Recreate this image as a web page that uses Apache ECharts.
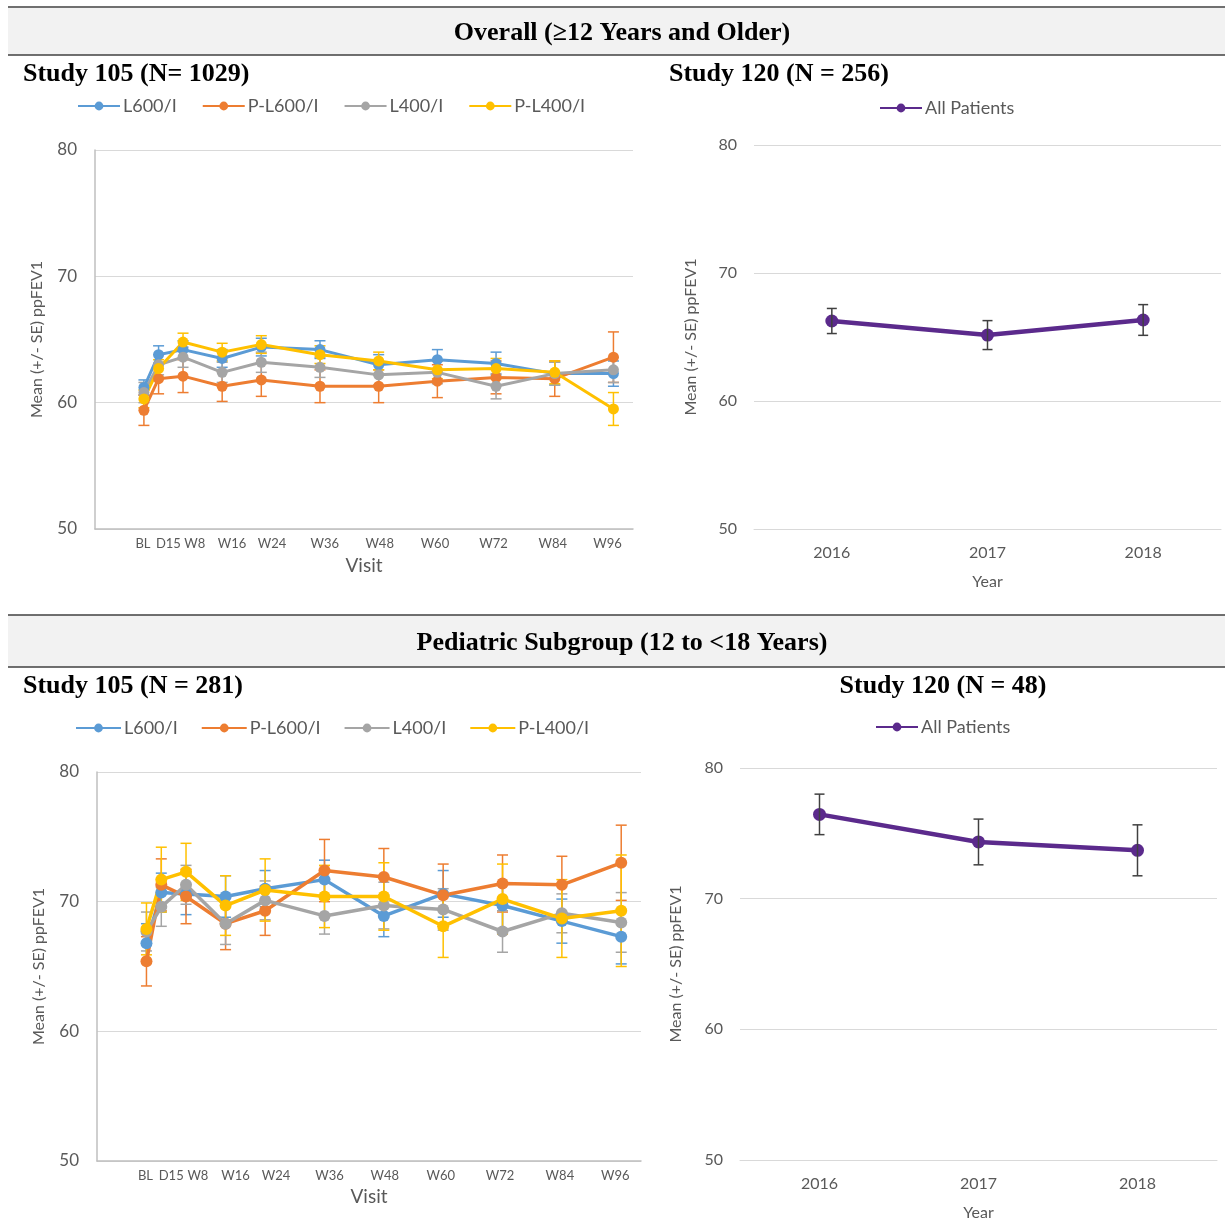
<!DOCTYPE html>
<html>
<head>
<meta charset="utf-8">
<script src="https://cdn.jsdelivr.net/npm/echarts@6/dist/echarts.min.js"></script>
<style>
  html, body { margin: 0; padding: 0; background: #fff; }
  #chart { width: 1225px; height: 1223px; }
</style>
</head>
<body>
<div id="chart"></div>
<script>
// ---- Visit schedule (x in weeks) and tick labels ----
const visits = ['BL', 'D15', 'W8', 'W16', 'W24', 'W36', 'W48', 'W60', 'W72', 'W84', 'W96'];
const visitWeeks = [0, 3, 8, 16, 24, 36, 48, 60, 72, 84, 96];
const visitTickWeeks = [-0.2, 5, 10.4, 18, 26.2, 37, 48.2, 59.5, 71.5, 83.6, 94.8];
const years = ['2016', '2017', '2018'];

// ---- Study 105, overall population: mean ppFEV1 and SE ----
const overallL600 = [61.2, 63.8, 64.2, 63.5, 64.4, 64.2, 63.0, 63.4, 63.1, 62.3, 62.3];
const overallL600SE = [0.6, 0.7, 0.7, 0.7, 0.7, 0.7, 0.8, 0.8, 0.9, 0.9, 1.0];
const overallPL600 = [59.4, 61.9, 62.1, 61.3, 61.8, 61.3, 61.3, 61.7, 62.0, 61.9, 63.6];
const overallPL600SE = [1.2, 1.2, 1.3, 1.2, 1.3, 1.3, 1.3, 1.3, 1.3, 1.4, 2.0];
const overallL400 = [60.8, 63.0, 63.6, 62.4, 63.2, 62.8, 62.2, 62.4, 61.3, 62.3, 62.6];
const overallL400SE = [0.8, 0.8, 0.8, 0.8, 0.8, 0.8, 0.8, 0.9, 1.0, 0.9, 1.0];
const overallPL400 = [60.3, 62.7, 64.8, 64.0, 64.6, 63.8, 63.3, 62.6, 62.7, 62.4, 59.5];
const overallPL400SE = [0.7, 0.7, 0.7, 0.7, 0.7, 0.7, 0.7, 0.7, 0.8, 0.9, 1.3];

// ---- Study 105, pediatric subgroup ----
const pedL600 = [66.8, 70.7, 70.6, 70.4, 71.0, 71.7, 68.9, 70.6, 69.7, 68.5, 67.3];
const pedL600SE = [1.5, 1.5, 1.6, 1.6, 1.4, 1.5, 1.6, 1.8, 1.8, 1.7, 2.1];
const pedPL600 = [65.4, 71.3, 70.4, 68.3, 69.3, 72.4, 71.9, 70.5, 71.4, 71.3, 73.0];
const pedPL600SE = [1.9, 2.0, 2.1, 2.0, 1.9, 2.4, 2.2, 2.4, 2.2, 2.2, 2.9];
const pedL400 = [67.7, 69.6, 71.3, 68.3, 70.1, 68.9, 69.7, 69.4, 67.7, 69.1, 68.4];
const pedL400SE = [1.5, 1.5, 1.5, 1.6, 1.5, 1.4, 1.8, 1.6, 1.6, 1.5, 2.3];
const pedPL400 = [67.9, 71.7, 72.3, 69.7, 70.9, 70.4, 70.4, 68.1, 70.2, 68.7, 69.3];
const pedPL400SE = [2.0, 2.5, 2.2, 2.3, 2.4, 2.4, 2.6, 2.4, 2.7, 3.0, 4.3];

// ---- Study 120, all patients by year ----
const overall120 = [66.25, 65.15, 66.33];
const overall120SE = [0.98, 1.13, 1.2];
const ped120 = [76.45, 74.34, 73.7];
const ped120SE = [1.55, 1.75, 1.95];

const armNames = ['L600/I', 'P-L600/I', 'L400/I', 'P-L400/I'];
const armColors = ['#5B9BD5', '#ED7D31', '#A5A5A5', '#FFC000'];
const purple = '#5B2A8C';
const axisText = '#595959';
const uiFont = 'Lato, "Open Sans", sans-serif';
const serifFont = '"Liberation Serif", "Times New Roman", serif';
const yName = 'Mean (+/- SE) ppFEV1';

// vertical error bar with caps, positioned through the axis scales
function errorBar(color, width, capHalf) {
  return function (params, api) {
    const x = api.value(0);
    const hi = api.coord([x, api.value(2)]);
    const lo = api.coord([x, api.value(1)]);
    const st = { stroke: color, lineWidth: width };
    return {
      type: 'group',
      children: [
        { type: 'line', shape: { x1: hi[0], y1: hi[1], x2: lo[0], y2: lo[1] }, style: st },
        { type: 'line', shape: { x1: hi[0] - capHalf, y1: hi[1], x2: hi[0] + capHalf, y2: hi[1] }, style: st },
        { type: 'line', shape: { x1: lo[0] - capHalf, y1: lo[1], x2: lo[0] + capHalf, y2: lo[1] }, style: st }
      ]
    };
  };
}

function visitArm(idx, name, values, se, color, lw, sym) {
  return [
    {
      type: 'custom', name: name + ' SE', xAxisIndex: idx, yAxisIndex: idx, silent: true, z: 2,
      renderItem: errorBar(color, 1.5, 5.5),
      encode: { x: 0, y: [1, 2] },
      data: visitWeeks.map((w, i) => [w, values[i] - se[i], values[i] + se[i]])
    },
    {
      type: 'line', name: name, xAxisIndex: idx, yAxisIndex: idx, z: 3,
      symbol: 'circle', symbolSize: sym,
      lineStyle: { width: lw, color: color }, itemStyle: { color: color },
      data: visitWeeks.map((w, i) => [w, values[i]])
    }
  ];
}

function yearSeries(idx, values, se) {
  return [
    {
      type: 'custom', name: 'All Patients SE', xAxisIndex: idx, yAxisIndex: idx, silent: true, z: 4,
      renderItem: errorBar('#404040', 1.5, 5),
      encode: { x: 0, y: [1, 2] },
      data: years.map((y, i) => [i, values[i] - se[i], values[i] + se[i]])
    },
    {
      type: 'line', name: 'All Patients', xAxisIndex: idx, yAxisIndex: idx, z: 3,
      symbol: 'circle', symbolSize: 13,
      lineStyle: { width: 4.5, color: purple }, itemStyle: { color: purple },
      data: values
    }
  ];
}

function visitLabel(v) {
  let best = 0;
  visitTickWeeks.forEach((t, i) => { if (Math.abs(t - v) < Math.abs(visitTickWeeks[best] - v)) best = i; });
  return visits[best];
}

function visitXAxis(idx, nameGap) {
  return {
    type: 'value', gridIndex: idx, min: -10, max: 100,
    name: 'Visit', nameLocation: 'middle', nameGap: nameGap,
    nameTextStyle: { color: axisText, fontFamily: uiFont, fontSize: 19 },
    axisLine: { show: true, onZero: false, lineStyle: { color: '#BFBFBF', width: 1.5 } },
    axisTick: { show: false },
    splitLine: { show: false },
    axisLabel: {
      customValues: visitTickWeeks, formatter: visitLabel, margin: 8,
      color: axisText, fontFamily: uiFont, fontSize: 13
    }
  };
}

function studyYAxis(idx, showLine, labelMargin, nameGap, labelSize) {
  return {
    type: 'value', gridIndex: idx, min: 50, max: 80, interval: 10,
    name: yName, nameLocation: 'middle', nameGap: nameGap,
    nameTextStyle: { color: axisText, fontFamily: uiFont, fontSize: 16 },
    axisLine: { show: showLine, onZero: false, lineStyle: { color: '#BFBFBF', width: 1.5 } },
    axisTick: { show: false },
    splitLine: { show: true, lineStyle: { color: '#D9D9D9', width: 1 } },
    axisLabel: { margin: labelMargin, color: axisText, fontFamily: uiFont, fontSize: labelSize }
  };
}

function yearXAxis(idx) {
  return {
    type: 'category', gridIndex: idx, data: years,
    name: 'Year', nameLocation: 'middle', nameGap: 45,
    nameTextStyle: { color: axisText, fontFamily: uiFont, fontSize: 16 },
    axisLine: { show: true, lineStyle: { color: '#D9D9D9', width: 1 } },
    axisTick: { show: false },
    axisLabel: { margin: 16, color: axisText, fontFamily: uiFont, fontSize: 16 }
  };
}

function legendFor(names, left, top, gap, lineLen, fontSize) {
  return {
    data: names, left: left, top: top, padding: 0,
    itemWidth: lineLen, itemHeight: 11, itemGap: gap,
    selectedMode: false,
    textStyle: { color: axisText, fontFamily: uiFont, fontSize: fontSize, padding: [0, 0, 0, -2] }
  };
}

function heading(text, x, y, align) {
  return {
    type: 'text', x: x, y: y, z: 10,
    style: {
      text: text, textAlign: align, textVerticalAlign: 'middle',
      font: 'bold 26px ' + serifFont, fill: '#000'
    }
  };
}

function rule(y) {
  return { type: 'line', z: 10, shape: { x1: 8, y1: y, x2: 1225, y2: y }, style: { stroke: '#404040', lineWidth: 1.5 } };
}

const series = [];
[overallL600, overallPL600, overallL400, overallPL400].forEach((vals, i) => {
  const se = [overallL600SE, overallPL600SE, overallL400SE, overallPL400SE][i];
  series.push(...visitArm(0, armNames[i], vals, se, armColors[i], 3, 11));
});
series.push(...yearSeries(1, overall120, overall120SE));
[pedL600, pedPL600, pedL400, pedPL400].forEach((vals, i) => {
  const se = [pedL600SE, pedPL600SE, pedL400SE, pedPL400SE][i];
  series.push(...visitArm(2, armNames[i], vals, se, armColors[i], 3.5, 12));
});
series.push(...yearSeries(3, ped120, ped120SE));

const option = {
  animation: false,
  backgroundColor: '#fff',
  grid: [
    { left: 95, top: 150, width: 538, height: 379 },
    { left: 754, top: 145, width: 467, height: 384 },
    { left: 97, top: 772, width: 544, height: 389 },
    { left: 740, top: 768, width: 477, height: 392 }
  ],
  xAxis: [visitXAxis(0, 27), yearXAxis(1), visitXAxis(2, 26), yearXAxis(3)],
  yAxis: [
    studyYAxis(0, true, 18, 50, 17),
    studyYAxis(1, false, 17, 55, 16),
    studyYAxis(2, true, 18, 50, 17),
    studyYAxis(3, false, 17, 56, 16)
  ],
  legend: [
    legendFor(armNames, 77, 97, 25, 42, 18),
    legendFor(['All Patients'], 879, 99, 10, 42, 18),
    legendFor(armNames, 75, 719, 23, 45, 18),
    legendFor(['All Patients'], 875, 718, 10, 42, 18)
  ],
  graphic: [
    { type: 'rect', z: 0, shape: { x: 8, y: 8, width: 1217, height: 47 }, style: { fill: '#F2F2F2' } },
    { type: 'rect', z: 0, shape: { x: 8, y: 615, width: 1217, height: 52 }, style: { fill: '#F2F2F2' } },
    rule(7), rule(55), rule(615), rule(667),
    heading('Overall (\u226512 Years and Older)', 622, 33, 'center'),
    heading('Pediatric Subgroup (12 to <18 Years)', 622, 643, 'center'),
    heading('Study 105 (N= 1029)', 23, 74, 'left'),
    heading('Study 120 (N = 256)', 669, 74, 'left'),
    heading('Study 105 (N = 281)', 23, 686, 'left'),
    heading('Study 120 (N = 48)', 943, 686, 'center')
  ],
  series: series
};

const chart = echarts.init(document.getElementById('chart'), null, { renderer: 'canvas' });
chart.setOption(option);
</script>
</body>
</html>
